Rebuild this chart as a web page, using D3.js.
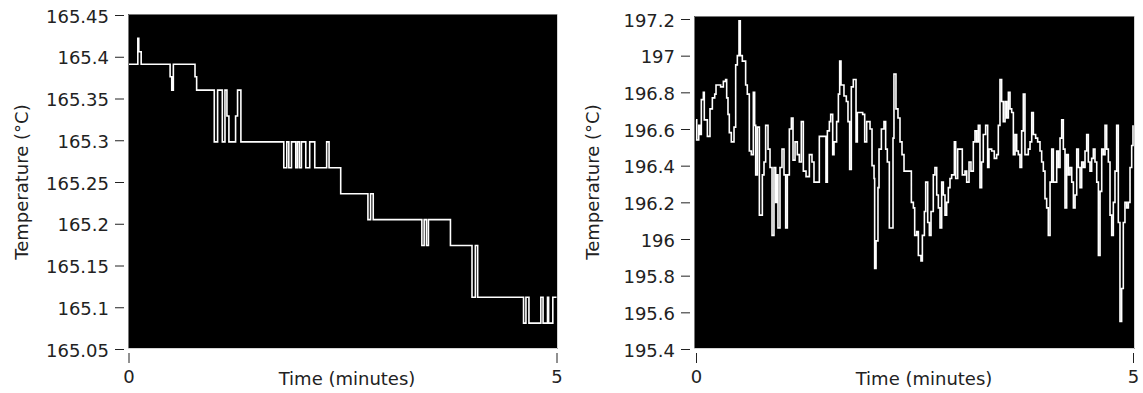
<!DOCTYPE html>
<html>
<head>
<meta charset="utf-8">
<script src="https://cdn.jsdelivr.net/npm/d3@7"></script>
<style>
  body { margin: 0; background: #fff; }
  svg text { font-family: "DejaVu Sans", sans-serif; font-size: 18px; fill: #222; }
</style>
</head>
<body>
<svg id="chart" width="1143" height="393"></svg>
<script>
// time (minutes), temperature (°C) change points, left chart is stepped
const leftSeries = [
  [0, 165.391], [0.109, 165.422], [0.120, 165.406], [0.148, 165.391],
  [0.486, 165.376], [0.505, 165.360], [0.524, 165.391], [0.777, 165.376],
  [0.796, 165.360], [1.002, 165.298], [1.041, 165.360], [1.096, 165.298],
  [1.127, 165.360], [1.150, 165.329], [1.173, 165.298], [1.251, 165.329],
  [1.274, 165.360], [1.313, 165.298], [1.814, 165.267], [1.849, 165.298],
  [1.873, 165.267], [1.904, 165.298], [1.954, 165.267], [1.974, 165.298],
  [1.997, 165.267], [2.020, 165.298], [2.071, 165.267], [2.117, 165.298],
  [2.176, 165.267], [2.315, 165.298], [2.343, 165.267], [2.479, 165.236],
  [2.797, 165.205], [2.828, 165.236], [2.859, 165.205], [3.427, 165.174],
  [3.454, 165.205], [3.481, 165.174], [3.504, 165.205], [3.761, 165.174],
  [4.013, 165.112], [4.052, 165.174], [4.079, 165.112], [4.615, 165.081],
  [4.643, 165.112], [4.678, 165.081], [4.817, 165.112], [4.843, 165.081],
  [4.895, 165.112], [4.908, 165.081], [4.957, 165.112], [5.0, 165.112]
];

const rightSeries = [
  [0, 196.65], [0.008, 196.54], [0.031, 196.62], [0.046, 196.57], [0.061, 196.76],
  [0.084, 196.80], [0.095, 196.65], [0.130, 196.56], [0.160, 196.71], [0.187, 196.77],
  [0.214, 196.79], [0.229, 196.84], [0.282, 196.83], [0.313, 196.86], [0.339, 196.87],
  [0.351, 196.77], [0.366, 196.68], [0.381, 196.58], [0.404, 196.53], [0.435, 196.61],
  [0.454, 196.95], [0.473, 197.00], [0.492, 197.19], [0.507, 197.00], [0.530, 196.97],
  [0.568, 196.84], [0.587, 196.79], [0.610, 196.48], [0.633, 196.46], [0.656, 196.80],
  [0.671, 196.62], [0.683, 196.35], [0.702, 196.61], [0.725, 196.13], [0.759, 196.35],
  [0.778, 196.42], [0.797, 196.62], [0.824, 196.49], [0.847, 196.39], [0.870, 196.02],
  [0.892, 196.39], [0.912, 196.20], [0.927, 196.35], [0.938, 196.06], [0.961, 196.39],
  [0.984, 196.49], [1.007, 196.35], [1.026, 196.06], [1.045, 196.35], [1.068, 196.60],
  [1.091, 196.66], [1.110, 196.43], [1.133, 196.53], [1.159, 196.46], [1.182, 196.42],
  [1.205, 196.64], [1.228, 196.37], [1.259, 196.34], [1.297, 196.46], [1.327, 196.42],
  [1.350, 196.31], [1.411, 196.56], [1.487, 196.31], [1.503, 196.59], [1.526, 196.64],
  [1.541, 196.68], [1.564, 196.46], [1.579, 196.53], [1.609, 196.64], [1.629, 196.79],
  [1.644, 196.97], [1.659, 196.84], [1.693, 196.78], [1.720, 196.75], [1.739, 196.64],
  [1.758, 196.38], [1.777, 196.83], [1.800, 196.87], [1.831, 196.53], [1.846, 196.69],
  [1.907, 196.68], [1.930, 196.53], [1.953, 196.64], [1.991, 196.60], [2.014, 196.40],
  [2.037, 196.33], [2.044, 195.84], [2.060, 195.99], [2.082, 196.28], [2.094, 196.49],
  [2.121, 196.60], [2.151, 196.64], [2.170, 196.49], [2.189, 196.42], [2.212, 196.06],
  [2.254, 196.55], [2.265, 196.90], [2.288, 196.71], [2.311, 196.66], [2.334, 196.53],
  [2.357, 196.46], [2.380, 196.37], [2.464, 196.20], [2.487, 196.17], [2.502, 196.02],
  [2.525, 196.04], [2.544, 195.91], [2.574, 195.88], [2.590, 196.02], [2.613, 196.15],
  [2.628, 196.31], [2.651, 196.09], [2.670, 196.02], [2.689, 196.15], [2.715, 196.35],
  [2.734, 196.39], [2.754, 196.24], [2.773, 196.17], [2.792, 196.06], [2.811, 196.31],
  [2.830, 196.24], [2.849, 196.13], [2.868, 196.20], [2.887, 196.28], [2.906, 196.33],
  [2.925, 196.35], [2.956, 196.53], [2.971, 196.33], [2.994, 196.49], [3.047, 196.35],
  [3.078, 196.37], [3.097, 196.31], [3.124, 196.42], [3.146, 196.37], [3.173, 196.53],
  [3.192, 196.59], [3.211, 196.53], [3.230, 196.62], [3.249, 196.28], [3.268, 196.42],
  [3.287, 196.57], [3.314, 196.62], [3.337, 196.39], [3.352, 196.49], [3.383, 196.48],
  [3.413, 196.44], [3.440, 196.46], [3.459, 196.62], [3.478, 196.87], [3.497, 196.75],
  [3.516, 196.64], [3.536, 196.75], [3.555, 196.66], [3.574, 196.80], [3.593, 196.71],
  [3.612, 196.69], [3.631, 196.46], [3.650, 196.57], [3.669, 196.48], [3.688, 196.46],
  [3.707, 196.39], [3.726, 196.59], [3.745, 196.79], [3.764, 196.46], [3.802, 196.49],
  [3.822, 196.53], [3.841, 196.69], [3.860, 196.57], [3.886, 196.55], [3.909, 196.53],
  [3.936, 196.48], [3.955, 196.42], [3.974, 196.37], [3.993, 196.22], [4.012, 196.17],
  [4.031, 196.02], [4.051, 196.31], [4.070, 196.49], [4.089, 196.31], [4.127, 196.48],
  [4.146, 196.39], [4.165, 196.55], [4.184, 196.65], [4.203, 196.49], [4.222, 196.17],
  [4.241, 196.46], [4.260, 196.35], [4.279, 196.39], [4.299, 196.31], [4.318, 196.17],
  [4.337, 196.24], [4.356, 196.49], [4.375, 196.39], [4.394, 196.28], [4.413, 196.42],
  [4.432, 196.39], [4.451, 196.48], [4.470, 196.57], [4.489, 196.42], [4.508, 196.37],
  [4.527, 196.44], [4.546, 196.49], [4.565, 196.42], [4.585, 196.31], [4.604, 195.91],
  [4.623, 196.26], [4.642, 196.49], [4.661, 196.46], [4.680, 196.62], [4.699, 196.49],
  [4.718, 196.42], [4.737, 196.13], [4.756, 196.02], [4.775, 196.20], [4.794, 196.37],
  [4.813, 196.62], [4.832, 196.09], [4.851, 195.55], [4.870, 195.73], [4.889, 196.09],
  [4.908, 196.20], [4.928, 196.17], [4.947, 196.20], [4.966, 196.39], [4.985, 196.51],
  [5.0, 196.62]
];

const leftTicks = [165.05, 165.1, 165.15, 165.2, 165.25, 165.3, 165.35, 165.4, 165.45];
const rightTicks = [195.4, 195.6, 195.8, 196, 196.2, 196.4, 196.6, 196.8, 197, 197.2];
const timeTicks = [0, 5];
const xLabel = "Time (minutes)";
const yLabel = "Temperature (°C)";

const svg = d3.select("#chart");

function panel(opts) {
  var g = svg.append("g");
  var x = d3.scaleLinear().domain([0, 5]).range([opts.x0, opts.x1]);
  var y = d3.scaleLinear().domain(opts.yDomain).range([opts.yBottom, opts.yTop]);

  // black plot area with inset frame
  g.append("rect")
    .attr("x", opts.box[0]).attr("y", opts.box[1])
    .attr("width", opts.box[2]).attr("height", opts.box[3])
    .attr("fill", "#000");
  var bx = opts.box[0], by = opts.box[1], bw = opts.box[2], bh = opts.box[3];
  g.append("path").attr("d", `M${bx + 0.5},${by + bh} V${by + 0.5} H${bx + bw}`)
    .attr("stroke", "#777").attr("fill", "none");
  g.append("path").attr("d", `M${bx + bw - 0.5},${by} V${by + bh - 0.5} H${bx}`)
    .attr("stroke", "#d4d4d4").attr("fill", "none");

  var clipId = "clip" + opts.id;
  svg.append("clipPath").attr("id", clipId).append("rect")
    .attr("x", bx + 1).attr("y", by + 1).attr("width", bw - 2).attr("height", bh - 2);

  var line = d3.line()
    .x(function(d) { return x(d[0]); })
    .y(function(d) { return y(d[1]); })
    .curve(d3.curveStepAfter);

  g.append("path")
    .datum(opts.data)
    .attr("clip-path", "url(#" + clipId + ")")
    .attr("d", line)
    .attr("fill", "none")
    .attr("stroke", "#fff")
    .attr("stroke-width", 1.6);

  // y axis, ticks sit a little left of the frame
  var yAxis = d3.axisLeft(y).tickValues(opts.yTicks)
    .tickFormat(d3.format("~g")).tickSizeInner(9).tickSizeOuter(0).tickPadding(6);
  var ya = g.append("g").attr("transform", "translate(" + (bx - 4) + ",0)").call(yAxis);
  ya.select(".domain").remove();
  ya.selectAll("line").attr("stroke", "#222");
  ya.selectAll("text").attr("dy", "0.4em").attr("font-size", null).attr("font-family", null);

  var xAxis = d3.axisBottom(x).tickValues(timeTicks)
    .tickFormat(d3.format("d")).tickSizeInner(10).tickSizeOuter(0).tickPadding(7);
  var xa = g.append("g").attr("transform", "translate(0," + (by + bh + 4) + ")").call(xAxis);
  xa.select(".domain").remove();
  xa.selectAll("line").attr("stroke", "#222");
  xa.selectAll("text").attr("font-size", null).attr("font-family", null);

  g.append("text").attr("x", opts.xLabelX).attr("y", 385)
    .attr("text-anchor", "middle").text(xLabel);
  g.append("text")
    .attr("transform", "translate(" + opts.yLabelX + "," + 182 + ") rotate(-90)")
    .attr("text-anchor", "middle").text(yLabel);
}

panel({
  id: "L", data: leftSeries, yDomain: [165.05, 165.45], yTicks: leftTicks,
  x0: 128.5, x1: 556.5, yBottom: 349, yTop: 15,
  box: [128, 14, 430, 335], xLabelX: 347, yLabelX: 28
});

panel({
  id: "R", data: rightSeries, yDomain: [195.4, 197.2], yTicks: rightTicks,
  x0: 696, x1: 1133, yBottom: 349, yTop: 19,
  box: [694, 16, 441, 333], xLabelX: 924, yLabelX: 599
});
</script>
</body>
</html>
